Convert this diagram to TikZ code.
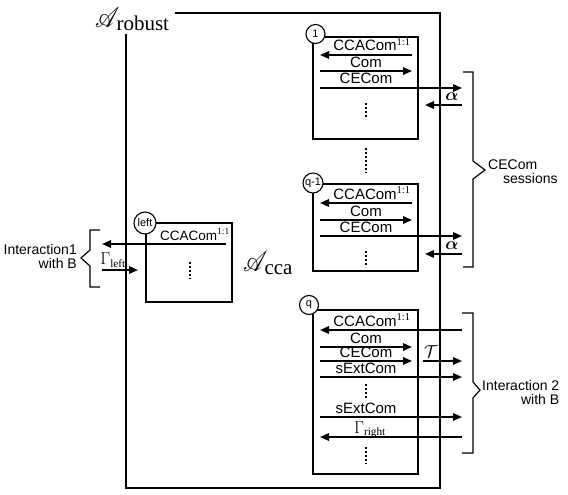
\documentclass[tikz,border=0pt]{standalone}
\usepackage{amsmath}
\usepackage{mathrsfs}
\usepackage{graphicx}
\usepackage{fontspec}
\setmainfont{Liberation Serif}
\setsansfont{Liberation Sans}
\usetikzlibrary{arrows.meta}

\newcommand{\mach}[1]{{\fontsize{30}{34}\selectfont\scalebox{0.95}[1.15]{$\mathscr{A}$}}\kern-3pt\raisebox{-3pt}{\fontsize{21}{22}\selectfont\rmfamily #1}}
\newcommand{\cca}{CCACom\textsuperscript{\rmfamily 1:1}}

\tikzset{
  box/.style={draw, line width=1.1pt, inner sep=0pt, outer sep=0pt},
  arr/.style={line width=1.7pt, -{Triangle[length=9pt,width=7.5pt]}},
  lab/.style={anchor=base, inner sep=0pt, font=\sffamily\fontsize{15}{16}\selectfont},
  num/.style={circle, draw, fill=white, line width=1.1pt, inner sep=0.5pt,
    minimum size=19pt, font=\sffamily\fontsize{11}{12}\selectfont},
  vdots/.style={line width=2.8pt, dash pattern=on 2.2pt off 1.8pt},
  brace/.style={line width=1.2pt},
  side/.style={inner sep=0pt, font=\sffamily\fontsize{14}{14}\selectfont},
  sym/.style={inner sep=0pt, font=\fontsize{16}{16}\selectfont},
}

\begin{document}
\begin{tikzpicture}[x=1pt,y=-1pt]
\useasboundingbox (0,0) rectangle (568,495);

% the machines
\node[box, minimum width=314pt, minimum height=475pt] (robust) at (283,250.5) {};
\node[fill=white, inner xsep=6pt, inner ysep=3pt, anchor=base west] (rlab) at (89,28) {\mach{robust}};
\node[inner sep=0pt, anchor=base west] (acca) at (243,271) {\mach{cca}};

% sessions
\node[box, minimum width=105pt, minimum height=102pt] (s1) at (365.5,88) {};
\node[box, minimum width=105pt, minimum height=87pt] (s2) at (365.5,227.5) {};
\node[box, minimum width=105pt, minimum height=164pt] (s3) at (365.5,392) {};
\node[box, minimum width=86pt, minimum height=79pt] (sl) at (189,262.5) {};
\node[num] (n1) at (315.5,34) {1};
\node[num] (n2) at (313,183) {q-1};
\node[num] (n3) at (309,305) {q};
\node[num, minimum size=22pt] (nl) at (145,223) {left};

% columns
\coordinate (inL) at (320,0);
\coordinate (inR) at (412,0);
\coordinate (outR) at (462,0);
\coordinate (alR) at (425,0);
\coordinate (tL) at (423,0);

% session 1
\draw[arr] (inR|-0,55) -- (inL|-0,55);
\draw[arr] (inL|-0,71) -- (inR|-0,71);
\draw[arr] (inL|-0,88) -- (outR|-0,88);
\draw[arr] (outR|-0,105) -- (alR|-0,105);
\node[lab] (c1) at (372,51) {\cca};
\node[lab] (m1) at (366,67) {Com};
\node[lab] (e1) at (366,84) {CECom};
\node[sym] (a1) at (452,97) {$\boldsymbol{\alpha}$};
\draw[vdots] (366,103) -- (366,119);

\draw[vdots] (366,148) -- (366,173);

% session q-1
\draw[arr] (inR|-0,203) -- (inL|-0,203);
\draw[arr] (inL|-0,220) -- (inR|-0,220);
\draw[arr] (inL|-0,236) -- (outR|-0,236);
\draw[arr] (outR|-0,254) -- (alR|-0,254);
\node[lab] (c2) at (372,199) {\cca};
\node[lab] (m2) at (366,216) {Com};
\node[lab] (e2) at (366,232) {CECom};
\node[sym] (a2) at (452,246) {$\boldsymbol{\alpha}$};
\draw[vdots] (366,251) -- (366,267);

% session q
\draw[arr] (outR|-0,330) -- (inL|-0,330);
\draw[arr] (inL|-0,347) -- (inR|-0,347);
\draw[arr] (inL|-0,361) -- (inR|-0,361);
\draw[arr] (tL|-0,361) -- (outR|-0,361);
\draw[arr] (inL|-0,377) -- (outR|-0,377);
\draw[arr] (inL|-0,417) -- (outR|-0,417);
\draw[arr] (outR|-0,437) -- (inL|-0,437);
\node[lab] (c3) at (372,326) {\cca};
\node[lab] (m3) at (366,343) {Com};
\node[lab] (e3) at (366,357) {CECom};
\node[lab] (x3) at (366,373) {sExtCom};
\node[lab] (y3) at (366,413) {sExtCom};
\node[lab, font=\fontsize{16}{16}\selectfont] (g3) at (370,433) {$\Gamma_{\text{right}}$};
\node[sym] (t3) at (431,352) {$\mathcal{T}$};
\draw[vdots] (366,384) -- (366,400);
\draw[vdots] (366,447) -- (366,464);

% session left
\draw[arr] (226,244) -- (102,244);
\draw[arr] (102,270) -- (138,270);
\node[lab, font=\sffamily\fontsize{13.5}{14}\selectfont] (cl) at (195,240) {\cca};
\node[sym] (gl) at (113,260) {$\Gamma_{\text{left}}$};
\draw[vdots] (190,262) -- (190,279);

% brackets
\draw[brace] (463,72) -- (473,72) -- (473,161) -- (485,170) -- (473,179) -- (473,267) -- (463,267);
\draw[brace] (462,313) -- (473,313) -- (473,382) -- (480,390) -- (473,398) -- (473,453) -- (462,453);
\draw[brace] (100,230) -- (90,230) -- (90,250) -- (81,258) -- (90,266) -- (90,287) -- (100,287);
\node[side, anchor=west, align=left] (ses) at (488,172) {CECom\\\hspace*{15pt}sessions};
\node[side, anchor=west, align=right] (int2) at (482,392) {Interaction 2\\with B};
\node[side, anchor=east, align=right] (int1) at (77,256) {Interaction1\\with B};
\end{tikzpicture}
\end{document}
